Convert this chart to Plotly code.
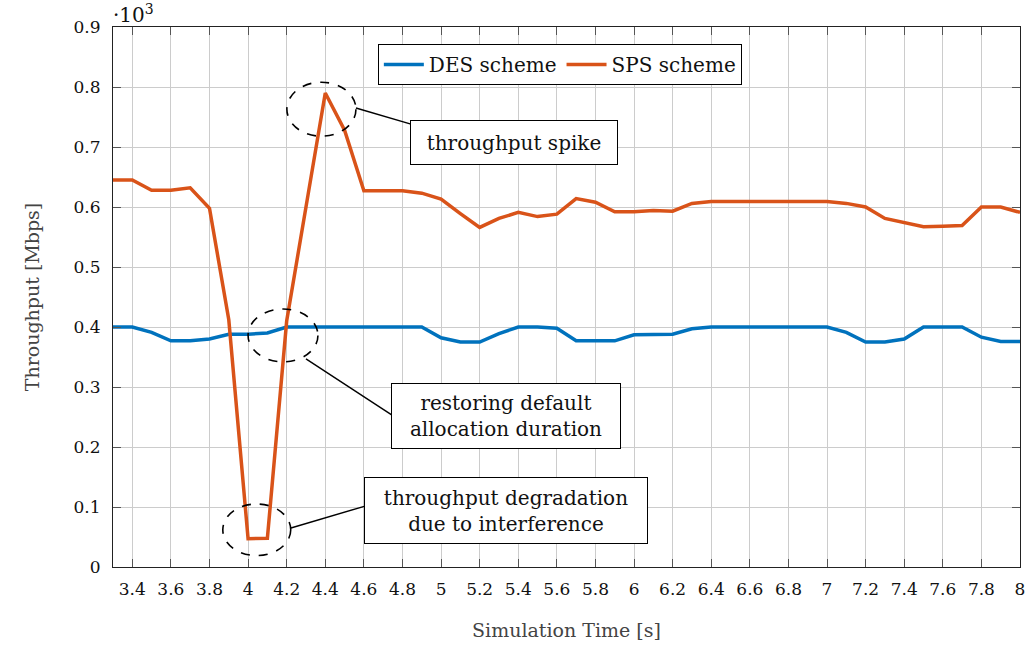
import plotly.graph_objects as go

# ---------------- data ----------------
time_s = [3.3, 3.4, 3.5, 3.6, 3.7, 3.8, 3.9, 4.0, 4.1, 4.2,
          4.3, 4.4, 4.5, 4.6, 4.7, 4.8, 4.9, 5.0, 5.1, 5.2,
          5.3, 5.4, 5.5, 5.6, 5.7, 5.8, 5.9, 6.0, 6.1, 6.2,
          6.3, 6.4, 6.5, 6.6, 6.7, 6.8, 6.9, 7.0, 7.1, 7.2,
          7.3, 7.4, 7.5, 7.6, 7.7, 7.8, 7.9, 8.0]

des_scheme = [0.400, 0.400, 0.391, 0.377, 0.377, 0.380, 0.388, 0.388, 0.390, 0.400,
              0.400, 0.400, 0.400, 0.400, 0.400, 0.400, 0.400, 0.382, 0.375, 0.375,
              0.389, 0.400, 0.400, 0.398, 0.377, 0.377, 0.377, 0.387, 0.388, 0.388,
              0.397, 0.400, 0.400, 0.400, 0.400, 0.400, 0.400, 0.400, 0.391, 0.375,
              0.375, 0.380, 0.400, 0.400, 0.400, 0.383, 0.376, 0.376]

sps_scheme = [0.645, 0.645, 0.628, 0.628, 0.632, 0.598, 0.412, 0.047, 0.048, 0.410,
              0.600, 0.790, 0.728, 0.627, 0.627, 0.627, 0.623, 0.613, 0.589, 0.566,
              0.581, 0.591, 0.584, 0.588, 0.614, 0.608, 0.592, 0.592, 0.594, 0.593,
              0.606, 0.609, 0.609, 0.609, 0.609, 0.609, 0.609, 0.609, 0.606, 0.600,
              0.581, 0.574, 0.567, 0.568, 0.569, 0.600, 0.600, 0.591]

x_tick_vals = [3.4, 3.6, 3.8, 4.0, 4.2, 4.4, 4.6, 4.8, 5.0, 5.2, 5.4, 5.6, 5.8,
               6.0, 6.2, 6.4, 6.6, 6.8, 7.0, 7.2, 7.4, 7.6, 7.8, 8.0]
x_tick_text = ["3.4", "3.6", "3.8", "4", "4.2", "4.4", "4.6", "4.8", "5", "5.2",
               "5.4", "5.6", "5.8", "6", "6.2", "6.4", "6.6", "6.8", "7", "7.2",
               "7.4", "7.6", "7.8", "8"]
y_tick_vals = [0, 0.1, 0.2, 0.3, 0.4, 0.5, 0.6, 0.7, 0.8, 0.9]
y_tick_text = ["0", "0.1", "0.2", "0.3", "0.4", "0.5", "0.6", "0.7", "0.8", "0.9"]

series_names = ["DES scheme", "SPS scheme"]
callout_texts = ["throughput spike",
                 "restoring default<br>allocation duration",
                 "throughput degradation<br>due to interference"]

# ---------------- style ----------------
FONT = "DejaVu Serif, Liberation Serif, serif"
BLUE = "#0072BD"
ORANGE = "#D95319"

fig = go.Figure()
fig.add_trace(go.Scatter(x=time_s, y=des_scheme, mode="lines", name=series_names[0],
                         line=dict(color=BLUE, width=3.5)))
fig.add_trace(go.Scatter(x=time_s, y=sps_scheme, mode="lines", name=series_names[1],
                         line=dict(color=ORANGE, width=3.5)))

# dashed ellipses (data coords: center x, center y, radius x, radius y)
ellipses = [(4.380, 0.763, 0.179, 0.045),
            (4.181, 0.386, 0.181, 0.044),
            (4.045, 0.062, 0.176, 0.043)]
for cx, cy, rx, ry in ellipses:
    fig.add_shape(type="circle", xref="x", yref="y",
                  x0=cx - rx, x1=cx + rx, y0=cy - ry, y1=cy + ry,
                  line=dict(color="black", width=1.6, dash="dash"))

# connector lines
connectors = [((4.559, 0.765), (4.844, 0.738)),
              ((4.300, 0.347), (4.746, 0.253)),
              ((4.222, 0.065), (4.611, 0.102))]
for (xa, ya), (xb, yb) in connectors:
    fig.add_shape(type="line", xref="x", yref="y", x0=xa, y0=ya, x1=xb, y1=yb,
                  line=dict(color="black", width=1.4))

# callout boxes: (center x, center y, width px, height px)
boxes = [(5.380, 0.707, 206, 43),
         (5.339, 0.2525, 228, 64),
         (5.339, 0.095, 282, 65)]
for (bx, by, bw, bh), txt in zip(boxes, callout_texts):
    fig.add_annotation(x=bx, y=by, xref="x", yref="y", text=txt, showarrow=False,
                       width=bw, height=bh, align="center", valign="middle",
                       bgcolor="white", bordercolor="black", borderwidth=1, borderpad=0,
                       font=dict(family=FONT, size=20, color="#111"))

# multiplier label
fig.add_annotation(x=0, y=1, xref="paper", yref="paper", xanchor="left", yanchor="bottom",
                   text="·10<sup>3</sup>", showarrow=False, yshift=-2, xshift=-2,
                   font=dict(family=FONT, size=20, color="#111"))

axis_common = dict(showgrid=True, gridcolor="#cccccc", gridwidth=1,
                   showline=True, linecolor="#222", linewidth=1.2, mirror="ticks",
                   ticks="inside", ticklen=8, tickcolor="#555", tickwidth=1,
                   zeroline=False, tickfont=dict(family=FONT, size=17, color="#111"))

fig.update_xaxes(range=[3.3, 8.0], tickmode="array", tickvals=x_tick_vals, ticktext=x_tick_text,
                 title=dict(text="Simulation Time [s]", standoff=26,
                            font=dict(family=FONT, size=19, color="#444")),
                 ticklabelstandoff=6, **axis_common)
fig.update_yaxes(range=[0, 0.9], tickmode="array", tickvals=y_tick_vals, ticktext=y_tick_text,
                 title=dict(text="Throughput [Mbps]", standoff=28,
                            font=dict(family=FONT, size=19, color="#444")),
                 ticklabelstandoff=8, **axis_common)

fig.update_layout(
    width=1035, height=645,
    margin=dict(l=113, r=15, t=27, b=78, autoexpand=False),
    plot_bgcolor="white", paper_bgcolor="white",
    showlegend=True,
    legend=dict(orientation="h", x=0.292, y=0.9685, xanchor="left", yanchor="top",
                bgcolor="white", bordercolor="black", borderwidth=1,
                font=dict(family=FONT, size=20, color="#111"),
                itemwidth=40, tracegroupgap=0),
)

fig.write_html("out.html", config={"displayModeBar": False},
               post_script="document.body.style.margin='0';")
